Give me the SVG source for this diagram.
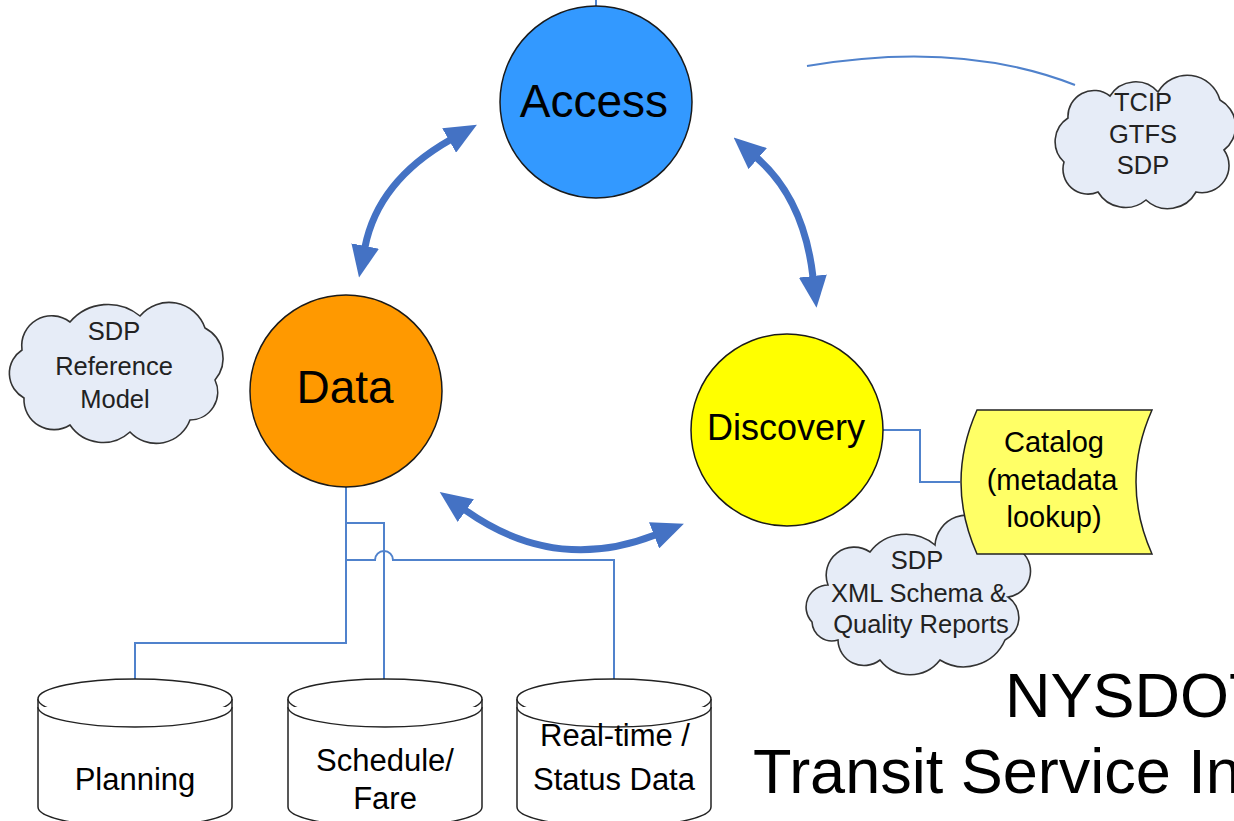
<svg xmlns="http://www.w3.org/2000/svg" width="1234" height="821" viewBox="0 0 1234 821">
  <style>
    .lbl { font-family: "Liberation Sans", Arial, sans-serif; fill: #000; text-anchor: middle; }
    .cloud { fill: #E6ECF7; stroke: #333; stroke-width: 1.6; }
    .cloudtxt { font-family: "Liberation Sans", Arial, sans-serif; fill: #222; text-anchor: middle; font-size: 25.5px; }
    .circle { stroke: #1a1a1a; stroke-width: 1.5; }
    .link { fill: none; stroke: #5082CC; stroke-width: 2; }
    .cycle { fill: none; stroke: #4472C4; stroke-width: 7; marker-start: url(#head); marker-end: url(#head); }
    .db { fill: #fff; stroke: #222; stroke-width: 1.5; }
    .dbtxt { font-size: 31px; }
    .cattxt { font-size: 29px; }
    .title { font-family: "Liberation Sans", Arial, sans-serif; fill: #000; font-size: 63px; }
  </style>
  <defs>
    <marker id="head" markerUnits="userSpaceOnUse" viewBox="0 0 32 28" refX="1" refY="14" markerWidth="32" markerHeight="28" orient="auto-start-reverse">
      <path d="M0,0 L32,14 L0,28 Z" fill="#4472C4"/>
    </marker>
  </defs>
  <rect width="1234" height="821" fill="#fff"/>

  <!-- thin links and the three cycle arrows -->
  <g id="connectors">
    <path class="link" d="M596,0 V7"/>
    <path class="link" d="M807,66 Q960,40 1075,85"/>
    <path class="link" d="M883,430 H920 V482 H960"/>
    <path class="link" d="M346,487 V643 H135 V679"/>
    <path class="link" d="M346,523 H384 V679"/>
    <path class="link" d="M346,560 H375 A9 9 0 0 1 393,560 H614 V679"/>
    <path class="cycle" d="M450,140 Q378,181 365,247"/>
    <path class="cycle" d="M757,158 Q804,199 813,277"/>
    <path class="cycle" d="M465,510 Q555,574 655,535"/>
  </g>

  <g id="access">
    <circle class="circle" cx="596" cy="102" r="96" fill="#3399FF"/>
    <text class="lbl" x="594" y="117" font-size="46">Access</text>
  </g>

  <g id="data">
    <circle class="circle" cx="346" cy="391" r="96" fill="#FF9900"/>
    <text class="lbl" x="345" y="403" font-size="46">Data</text>
  </g>

  <g id="discovery">
    <circle class="circle" cx="787" cy="430" r="96" fill="#FFFF00"/>
    <text class="lbl" x="786" y="440" font-size="36">Discovery</text>
  </g>

  <g id="standards-cloud">
    <path class="cloud" d="M1068,118 A26 26 0 0 1 1110,96 A30 30 0 0 1 1158,92 A34 34 0 0 1 1220,100 A30 30 0 0 1 1224,150 A27 27 0 0 1 1196,192 A32 32 0 0 1 1146,200 A32 32 0 0 1 1098,192 A25 25 0 0 1 1064,162 A28 28 0 0 1 1068,118 Z"/>
    <text class="cloudtxt" x="1143" y="111">TCIP</text>
    <text class="cloudtxt" x="1143" y="143">GTFS</text>
    <text class="cloudtxt" x="1143" y="174">SDP</text>
  </g>

  <g id="reference-model-cloud">
    <path class="cloud" d="M22,350 A30 30 0 0 1 70,322 A50 50 0 0 1 140,316 A38 38 0 0 1 205,328 A34 34 0 0 1 215,380 A28 28 0 0 1 190,420 A36 36 0 0 1 130,432 A40 40 0 0 1 70,425 A30 30 0 0 1 24,398 A28 28 0 0 1 22,350 Z"/>
    <text class="cloudtxt" x="114" y="340">SDP</text>
    <text class="cloudtxt" x="114" y="375">Reference</text>
    <text class="cloudtxt" x="115" y="408">Model</text>
  </g>

  <g id="schema-cloud">
    <path class="cloud" d="M828,585 A28 28 0 0 1 870,552 A45 45 0 0 1 935,545 A32 32 0 0 1 990,525 A30 30 0 0 1 1022,552 A26 26 0 0 1 1008,597 A25 25 0 0 1 1005,640 A45 45 0 0 1 940,660 A38 38 0 0 1 880,660 A26 26 0 0 1 838,640 A20 20 0 0 1 812,622 A22 22 0 0 1 828,585 Z"/>
    <text class="cloudtxt" x="917" y="569">SDP</text>
    <text class="cloudtxt" x="919" y="602">XML Schema &amp;</text>
    <text class="cloudtxt" x="921" y="633">Quality Reports</text>
  </g>

  <g id="catalog">
    <path d="M977,410 L1152,410 Q1120,482 1152,554 L977,554 Q945,482 977,410 Z" fill="#FFFF66" stroke="#222" stroke-width="1.5"/>
    <text class="lbl cattxt" x="1054" y="452">Catalog</text>
    <text class="lbl cattxt" x="1052" y="490">(metadata</text>
    <text class="lbl cattxt" x="1054" y="527">lookup)</text>
  </g>

  <g id="planning">
    <path class="db" d="M38,699 V807 A97 20 0 0 0 232,807 V699"/>
    <ellipse class="db" cx="135" cy="699" rx="97" ry="20"/>
    <path class="db" fill="none" d="M38,707 A97 20 0 0 0 232,707"/>
    <text class="lbl dbtxt" x="135" y="790">Planning</text>
  </g>

  <g id="schedule-fare">
    <path class="db" d="M288,699 V807 A97 20 0 0 0 482,807 V699"/>
    <ellipse class="db" cx="385" cy="699" rx="97" ry="20"/>
    <path class="db" fill="none" d="M288,707 A97 20 0 0 0 482,707"/>
    <text class="lbl dbtxt" x="385" y="771">Schedule/</text>
    <text class="lbl dbtxt" x="385" y="809">Fare</text>
  </g>

  <g id="realtime-status">
    <path class="db" d="M517,699 V807 A97 20 0 0 0 711,807 V699"/>
    <ellipse class="db" cx="614" cy="699" rx="97" ry="20"/>
    <path class="db" fill="none" d="M517,707 A97 20 0 0 0 711,707"/>
    <text class="lbl dbtxt" x="615" y="746">Real-time /</text>
    <text class="lbl dbtxt" x="614" y="790">Status Data</text>
  </g>

  <g id="title">
    <text class="title" x="1005" y="717">NYSDOT</text>
    <text class="title" x="753" y="793">Transit Service In</text>
  </g>
</svg>
